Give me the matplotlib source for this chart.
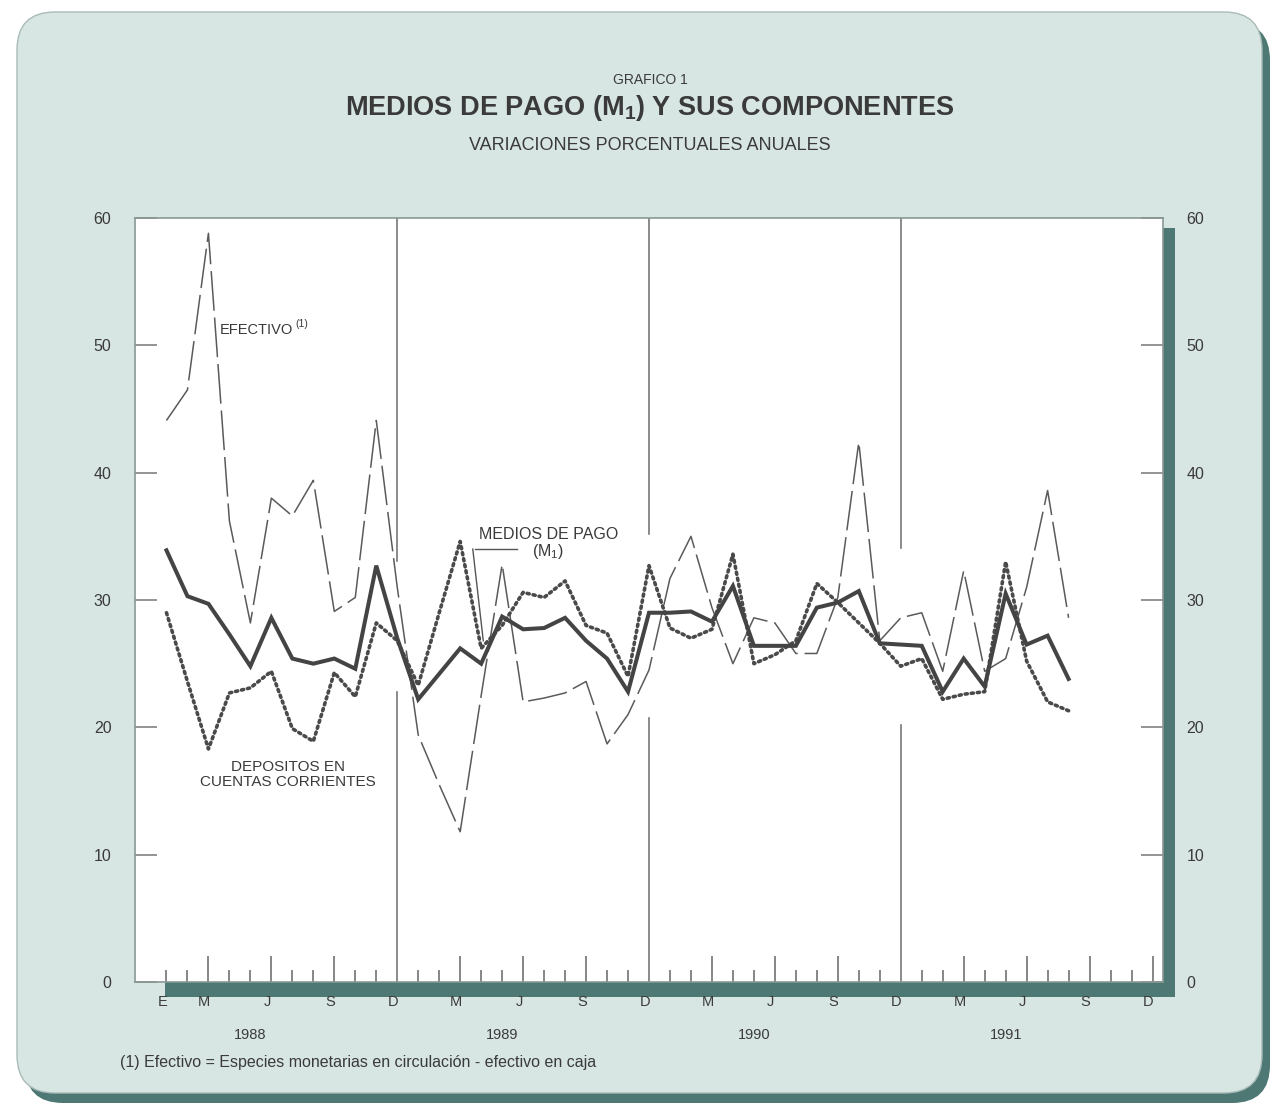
import numpy as np
import matplotlib.pyplot as plt
from matplotlib.patches import FancyBboxPatch, Rectangle

plt.rcParams['font.family'] = ['Liberation Sans', 'DejaVu Sans']
plt.rcParams['mathtext.fontset'] = 'custom'
plt.rcParams['mathtext.rm'] = 'Liberation Sans'
plt.rcParams['mathtext.bf'] = 'Liberation Sans:bold'
plt.rcParams['mathtext.it'] = 'Liberation Sans:italic'

# monthly series, Jan 1988 .. Aug 1991 (annual % change)
efectivo = [44.1, 46.5, 58.8, 36.2, 28.2, 38.0, 36.6, 39.4, 29.1, 30.2, 44.1, 31.0,
            19.4, 15.5, 11.8, 22.5, 32.8, 22.0, 22.3, 22.7, 23.6, 18.7, 21.0, 24.5,
            31.7, 35.0, 29.4, 25.0, 28.6, 28.2, 25.8, 25.8, 30.2, 42.4, 26.8, 28.6,
            29.0, 24.4, 32.3, 24.4, 25.4, 31.0, 38.6, 28.6]
medios_pago = [33.9, 30.3, 29.7, 27.3, 24.8, 28.6, 25.4, 25.0, 25.4, 24.6, 32.7, 27.0,
               22.2, 24.2, 26.2, 25.0, 28.7, 27.7, 27.8, 28.6, 26.8, 25.4, 22.8, 29.0,
               29.0, 29.1, 28.3, 31.1, 26.4, 26.4, 26.4, 29.4, 29.8, 30.7, 26.6, 26.5,
               26.4, 22.8, 25.4, 23.2, 30.5, 26.5, 27.2, 23.8]
depositos = [29.0, 23.6, 18.3, 22.7, 23.1, 24.4, 19.9, 18.9, 24.3, 22.4, 28.2, 26.8,
             23.3, 29.0, 34.6, 26.2, 28.0, 30.6, 30.2, 31.5, 28.0, 27.4, 24.0, 32.7,
             27.8, 27.0, 27.7, 33.6, 25.0, 25.7, 26.8, 31.3, 29.8, 28.2, 26.6, 24.8,
             25.4, 22.2, 22.6, 22.8, 33.0, 25.2, 22.0, 21.3]

years = ['1988', '1989', '1990', '1991']
month_labels = ['E', 'M', 'J', 'S', 'D']
month_label_pos = [0, 2, 5, 8, 11]
# year dividers (December) drawn with a gap where the curves cross
divider_pos = [11, 23, 35]
divider_gaps = [(22.8, 33.1), (20.7, 35.2), (20.2, 34.1)]

months = np.arange(len(medios_pago))

W, H = 1270, 1106
fig = plt.figure(figsize=(W / 100, H / 100), dpi=100)
fig.patch.set_facecolor('white')

dark = '#4d7873'
light = '#d8e6e3'
ink = '#3a3a3a'

# outer rounded panel with dark shadow on right and bottom
inch = fig.dpi_scale_trans
fig.patches.append(FancyBboxPatch((0.25, 0.03), 12.45, 10.81,
                                  boxstyle='round,pad=0,rounding_size=0.38',
                                  transform=inch, facecolor=dark, edgecolor='none', zorder=0))
fig.patches.append(FancyBboxPatch((0.17, 0.13), 12.45, 10.81,
                                  boxstyle='round,pad=0,rounding_size=0.38',
                                  transform=inch, facecolor=light, edgecolor='#a9bbb8',
                                  linewidth=1.0, zorder=1))
# plot shadow
fig.patches.append(Rectangle((165 / W, 1 - 997 / H), (1175 - 165) / W, (997 - 228) / H,
                             transform=fig.transFigure, facecolor=dark,
                             edgecolor='none', zorder=2))

ax = fig.add_axes([135 / W, 1 - 982 / H, (1163 - 135) / W, (982 - 218) / H], zorder=3)
ax.set_facecolor('white')
ax.set_xlim(-1.5, 47.5)
ax.set_ylim(0, 60)

for s in ax.spines.values():
    s.set_color('#8a9896')
    s.set_linewidth(1.2)

# dividers
for xd, (g0, g1) in zip(divider_pos, divider_gaps):
    ax.plot([xd, xd], [0, g0], color='#777777', lw=1.2, zorder=1)
    ax.plot([xd, xd], [g1, 60], color='#777777', lw=1.2, zorder=1)

ax.plot(months, efectivo, color='#5a5a5a', lw=1.1, dashes=(26, 4.5), zorder=2)
ax.plot(months, depositos, color='#4a4a4a', lw=2.6, linestyle=(0, (0.6, 1.1)),
        dash_capstyle='round', zorder=3)
ax.plot(months, medios_pago, color='#444444', lw=2.9, solid_joinstyle='miter', zorder=4)

# ticks
all_months = np.arange(48)
major = [m for m in all_months if m % 3 == 2 and m not in divider_pos]
minor = [m for m in all_months if m % 3 != 2]
ax.set_xticks(major)
ax.set_xticks(minor, minor=True)
ax.tick_params(axis='x', which='major', direction='in', length=19, width=1.1,
               color='#666666', labelbottom=False)
ax.tick_params(axis='x', which='minor', direction='in', length=8.5, width=1.1,
               color='#666666', labelbottom=False)
ax.set_yticks(range(0, 61, 10))
ax.tick_params(axis='y', direction='in', length=16, width=1.1, color='#777777',
               left=True, right=True, labelleft=True, labelright=True,
               labelsize=11.5, labelcolor=ink, pad=17)

# month and year labels
for k, yr in enumerate(years):
    for lab, pos in zip(month_labels, month_label_pos):
        if k > 0 and lab == 'E':
            continue
        ax.text(12 * k + pos - 0.2, -1.6, lab, ha='center', va='center',
                fontsize=10.5, color=ink)
    ax.text(12 * k + 4, -4.2, yr, ha='center', va='center', fontsize=10.5, color=ink)

# annotations
ax.text(2.55, 51.2, 'EFECTIVO', fontsize=10.5, color=ink, va='center')
ax.text(6.15, 51.7, '(1)', fontsize=7.5, color=ink, va='center')
ax.text(5.8, 16.3, 'DEPOSITOS EN\nCUENTAS CORRIENTES', fontsize=11, color=ink,
        ha='center', va='center', linespacing=1.1)
ax.text(18.2, 34.4, 'MEDIOS DE PAGO\n(M$_1$)', fontsize=11.5, color=ink,
        ha='center', va='center', linespacing=0.95)
ax.plot([14.7, 16.7], [34.0, 34.0], color='#555555', lw=1.0)
ax.plot([14.6, 15.1], [34.0, 26.8], color='#555555', lw=1.0)

# titles
fig.text(650 / W, 1 - 80 / H, 'GRAFICO 1', ha='center', va='center', fontsize=10, color=ink)
fig.text(650 / W, 1 - 108 / H, 'MEDIOS DE PAGO (M$_\\mathbf{1}$) Y SUS COMPONENTES',
         ha='center', va='center', fontsize=19.5, fontweight='bold', color=ink)
fig.text(650 / W, 1 - 146 / H, 'VARIACIONES PORCENTUALES ANUALES', ha='center',
         va='center', fontsize=13, color=ink)
fig.text(120 / W, 1 - 1062 / H,
         '(1) Efectivo = Especies monetarias en circulación - efectivo en caja',
         ha='left', va='center', fontsize=11.5, color=ink)

fig.savefig('out.png', dpi=100, facecolor=fig.get_facecolor())
